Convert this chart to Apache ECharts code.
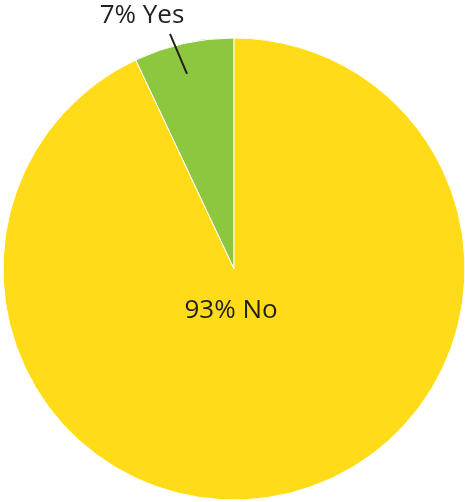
<!DOCTYPE html>
<html>
<head>
<meta charset="utf-8">
<script src="https://cdn.jsdelivr.net/npm/echarts@6/dist/echarts.min.js"></script>
<style>html,body{margin:0;padding:0;background:#fff}#c{width:465px;height:502px}</style>
</head>
<body>
<div id="c"></div>
<script>
const categories = ['Yes', 'No'];
const values = [7, 93];
const colors = ['#8DC63F', '#FFDC17'];

const chart = echarts.init(document.getElementById('c'), null, {renderer: 'canvas'});
const textColor = '#231F20';
const font = '"Open Sans", "Noto Sans", sans-serif';

const base = {
  type: 'pie',
  center: [234, 269],
  radius: 231,
  startAngle: 90,
  clockwise: false,
  emphasis: {disabled: true},
  silent: true
};

chart.setOption({
  animation: false,
  series: [
    Object.assign({}, base, {
      z: 2,
      data: categories.map((c, i) => ({name: c, value: values[i], itemStyle: {color: colors[i]}})),
      itemStyle: {borderColor: '#fff', borderWidth: 1},
      label: {show: false},
      labelLine: {show: false}
    }),
    Object.assign({}, base, {
      z: 5,
      data: categories.map((c, i) => ({
        name: c,
        value: values[i],
        label: i === 0 ? {position: 'outside'} : {position: 'center'},
        labelLine: {show: i === 0}
      })),
      itemStyle: {color: 'rgba(0,0,0,0)', borderWidth: 0},
      label: {
        show: true,
        formatter: p => p.value + '% ' + p.name,
        fontFamily: font,
        fontSize: 26,
        color: textColor
      },
      labelLine: {
        lineStyle: {color: textColor, width: 2},
        length: 10,
        length2: 0
      },
      labelLayout: function (params) {
        if (params.dataIndex === 0) {
          const p0 = params.labelLinePoints ? params.labelLinePoints[0] : [184, 44];
          const s = [p0[0] + 3.4, p0[1] + 30.4];
          const e = [p0[0] - 13.6, p0[1] - 9.6];
          return {
            x: p0[0] - 41.6,
            y: p0[1] - 27.6,
            align: 'center',
            verticalAlign: 'middle',
            labelLinePoints: [s, [(s[0] + e[0]) / 2, (s[1] + e[1]) / 2], e]
          };
        }
        return {dx: -3, dy: 42};
      }
    })
  ]
});
</script>
</body>
</html>
